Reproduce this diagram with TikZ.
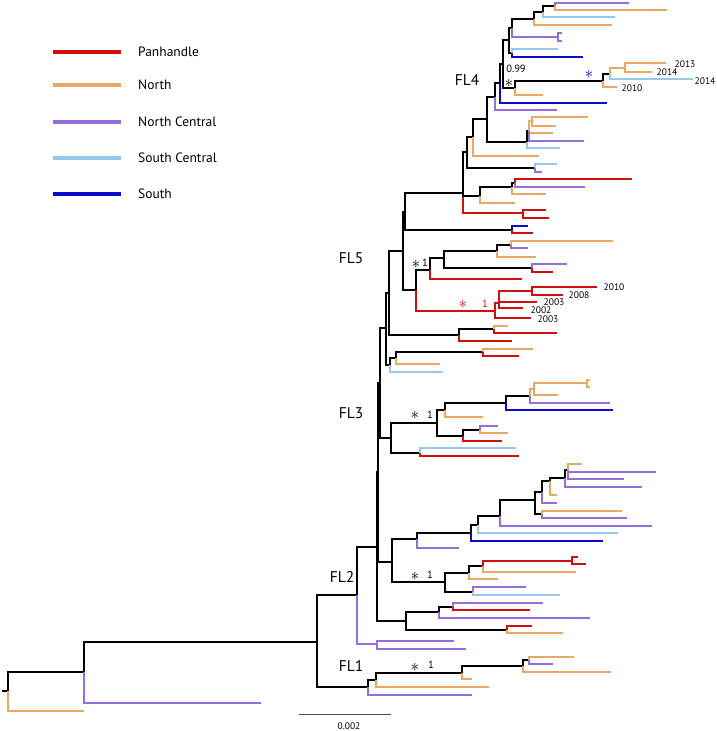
\documentclass[tikz,border=0pt]{standalone}
\usepackage{fontspec}
\setmainfont{PT Sans}
\definecolor{cPan}{RGB}{208,16,16}
\definecolor{cNor}{RGB}{233,168,102}
\definecolor{cNCe}{RGB}{150,110,215}
\definecolor{cSCe}{RGB}{150,200,235}
\definecolor{cSou}{RGB}{10,10,200}

\begin{document}
\begin{tikzpicture}[
    x=1pt, y=-1pt,
    branch/.style={line width=1.35pt},
    blk/.style={branch, draw=black},
    pan/.style={branch, draw=cPan},
    nor/.style={branch, draw=cNor},
    nce/.style={branch, draw=cNCe},
    sce/.style={branch, draw=cSCe},
    sou/.style={branch, draw=cSou},
    legline/.style={line width=3.3pt},
    legtext/.style={font=\fontsize{13.5}{16}\selectfont, inner sep=0pt},
    clade/.style={font=\fontsize{15.5}{18}\selectfont, inner sep=0pt},
    year/.style={font=\fontsize{9.5}{11}\selectfont, inner sep=0pt},
    supp/.style={font=\fontsize{10.5}{12}\selectfont, inner sep=0pt},
    star/.style={font=\fontsize{18}{19}\selectfont, inner sep=0pt}
]
\useasboundingbox (0,0) rectangle (717,731);

\foreach \st/\yy/\lab in {pan/52/Panhandle, nor/85/North, nce/122/North Central,
    sce/158/South Central, sou/194/South} {
  \draw[\st, legline] (53,\yy) -- (121,\yy);
  \node[legtext, anchor=base west] (key\yy) at (138,\yy+4.5) {\lab};
}

\coordinate (root) at (2,691);
\coordinate (r0) at (8,691);
\coordinate (r1) at (84,672);
\coordinate (r2) at (317,642);
\coordinate (fl1) at (368,687);
\coordinate (fl1b) at (376,680);
\coordinate (fl1c) at (462,673);
\coordinate (fl1d) at (523,666);
\coordinate (fl1e) at (529,660);
\coordinate (fl2) at (357,595);
\coordinate (fl2p) at (377,644);
\coordinate (a) at (377,547);
\coordinate (b) at (378,472);
\coordinate (c) at (406,621);
\coordinate (c1) at (439,612);
\coordinate (c2) at (453,607);
\coordinate (c3) at (507,630);
\coordinate (fl2s) at (392,562);
\coordinate (s1) at (417,539);
\coordinate (s2) at (471,533);
\coordinate (s3) at (478,525);
\coordinate (s4) at (500,516);
\coordinate (s5) at (535,500);
\coordinate (s6) at (542,492);
\coordinate (s7) at (550,481);
\coordinate (s8) at (565,478);
\coordinate (s9) at (568,470);
\coordinate (s10) at (542,514);
\coordinate (t1) at (445,582);
\coordinate (t2) at (469,573);
\coordinate (t3) at (483,566);
\coordinate (t4) at (572,561);
\coordinate (t5) at (473,592);
\coordinate (fl3) at (380,383);
\coordinate (fl3b) at (391,438);
\coordinate (u1) at (437,423);
\coordinate (u2) at (445,410);
\coordinate (u3) at (506,403);
\coordinate (u4) at (530,396);
\coordinate (u5) at (534,389);
\coordinate (u6) at (587,383);
\coordinate (u7) at (463,436);
\coordinate (u8) at (480,430);
\coordinate (u9) at (420,453);
\coordinate (v0) at (386,328);
\coordinate (v1) at (390,365);
\coordinate (v2) at (396,358);
\coordinate (v3) at (483,352);
\coordinate (fl5) at (389,293);
\coordinate (w1) at (459,335);
\coordinate (w2) at (494,329);
\coordinate (q) at (403,251);
\coordinate (q1) at (416,290);
\coordinate (q2) at (430,270);
\coordinate (q3) at (444,258);
\coordinate (q4) at (497,251);
\coordinate (q5) at (511,245);
\coordinate (q6) at (532,268);
\coordinate (rc) at (495,311);
\coordinate (rc1) at (499,303);
\coordinate (rc2) at (532,291);
\coordinate (p) at (405,212);
\coordinate (p1) at (512,230);
\coordinate (e) at (463,193);
\coordinate (e1) at (523,213);
\coordinate (m1) at (480,196);
\coordinate (m2) at (512,187);
\coordinate (m3) at (515,183);
\coordinate (h) at (467,152);
\coordinate (h1) at (535,168);
\coordinate (h2) at (473,137);
\coordinate (h3) at (487,119);
\coordinate (k) at (527,142);
\coordinate (k1) at (529,131);
\coordinate (k2) at (532,121);
\coordinate (h4) at (495,97);
\coordinate (fl4b) at (500,83);
\coordinate (fl4a) at (503,64);
\coordinate (g1) at (509,40);
\coordinate (g2) at (512,28);
\coordinate (g3) at (534,19);
\coordinate (g4) at (543,12);
\coordinate (g5) at (555,6);
\coordinate (g6) at (558,37);
\coordinate (g7) at (512,53);
\coordinate (j1) at (515,88);
\coordinate (j2) at (603,81);
\coordinate (j3) at (610,74);
\coordinate (j4) at (625,68);

\draw[blk] (root) -- (r0);
\foreach \pa/\ch/\st in {r0/r1/blk, r1/r2/blk, r2/fl2/blk, r2/fl1/blk,
    fl1/fl1b/blk, fl1b/fl1c/blk, fl1c/fl1d/blk, fl1d/fl1e/blk,
    fl2/a/blk, fl2/fl2p/nce, a/b/blk, a/c/blk, c/c1/blk, c1/c2/blk, c/c3/blk,
    b/fl3/blk, b/fl2s/blk,
    fl2s/s1/blk, s1/s2/blk, s2/s3/blk, s3/s4/blk, s4/s5/blk, s5/s6/blk,
    s6/s7/blk, s7/s8/blk, s8/s9/blk, s5/s10/blk,
    fl2s/t1/blk, t1/t2/blk, t2/t3/blk, t3/t4/pan, t1/t5/blk,
    fl3/v0/blk, fl3/fl3b/blk, fl3b/u1/blk, u1/u2/blk, u2/u3/blk, u3/u4/blk,
    u4/u5/nor, u5/u6/nor, u1/u7/blk, u7/u8/blk, fl3b/u9/blk,
    v0/fl5/blk, v0/v1/blk, v1/v2/blk, v2/v3/blk,
    fl5/q/blk, fl5/w1/blk, w1/w2/blk,
    q/p/blk, q/q1/blk, q1/q2/blk, q2/q3/blk, q3/q4/blk, q4/q5/blk, q3/q6/blk,
    q1/rc/pan, rc/rc1/pan, rc1/rc2/pan,
    p/e/blk, p/p1/blk, e/e1/pan, e/m1/blk, m1/m2/blk, m2/m3/blk,
    e/h/blk, h/h1/blk, h/h2/blk, h2/h3/blk, h3/k/blk, k/k1/blk, k1/k2/nor,
    h3/h4/blk, h4/fl4b/blk, fl4b/fl4a/blk, fl4a/g1/blk, g1/g2/blk, g2/g3/blk,
    g3/g4/blk, g4/g5/blk, g2/g6/nce, g1/g7/blk,
    fl4a/j1/blk, j1/j2/blk, j2/j3/blk, j3/j4/nor}
  \draw[\st] (\pa) |- (\ch);

\foreach \pa/\yy/\xx/\st [count=\i] in {r0/711/84/nor, r1/703/261/nce,
    fl1/695/472/nce, fl1b/687/489/nor, fl1c/679/472/nor, fl1d/672/611/nor,
    fl1e/657/574/nor, fl1e/664/553/nce,
    fl2p/641/454/nce, fl2p/649/466/nce,
    c2/603/543/nce, c2/610/530/pan, c1/618/590/nce, c3/626/532/pan, c3/633/563/nor,
    s1/548/459/nce, s2/541/603/sou, s3/533/618/sce, s4/526/652/nce,
    s10/511/622/nor, s10/518/627/nce, s6/503/557/nce, s7/495/557/nor,
    s8/487/642/nce, s9/464/582/nor, s9/472/656/nce, s9/479/624/nce,
    t2/579/498/nor, t3/572/576/nor, t4/557/578/pan, t4/564/586/pan,
    t5/587/526/nce, t5/595/560/sce,
    u9/448/516/sce, u9/456/519/pan, u7/441/502/pan, u8/426/498/nce, u8/433/508/nor,
    u2/417/483/nor, u3/410/613/sou, u4/403/610/nce, u5/395/558/nor,
    u6/380/590/nor, u6/387/590/nor,
    v1/372/443/sce, v2/364/440/nor, v3/349/533/nor, v3/356/519/pan,
    w1/341/512/pan, w2/326/508/nor, w2/333/557/pan,
    rc/318/531/pan, rc1/302/537/pan, rc1/308/523/pan, rc2/287/597/pan, rc2/295/563/pan,
    q2/279/522/pan, q6/264/567/nce, q6/272/553/pan, q4/257/536/nor,
    q5/241/613/nor, q5/248/528/nce,
    p1/226/528/sou, p1/233/533/pan, e1/210/546/pan, e1/218/549/pan,
    m1/203/515/nor, m2/194/546/nor, m3/179/632/pan, m3/187/585/nce,
    h1/164/557/sce, h1/172/542/nce, h2/156/539/nor,
    k/148/560/sce, k1/133/553/nor, k1/141/584/nce, k2/117/588/nor, k2/126/556/nor,
    h4/110/557/nce, fl4b/103/607/sou, j1/95/543/nor, j2/87/617/nor,
    j3/79/693/sce, j4/63/666/nor, j4/72/652/nor,
    g7/49/558/sce, g7/57/583/sou, g6/33/562/nce, g6/41/562/nce,
    g3/25/612/nor, g4/17/615/sce, g5/3/629/nce, g5/10/667/nor} {
  \coordinate (tip\i) at (\xx,\yy);
  \draw[\st] (\pa) |- (tip\i);
}

\node[clade] (labFL4) at (467,80) {FL4};
\node[clade] (labFL5) at (351,258) {FL5};
\node[clade] (labFL3) at (351,413) {FL3};
\node[clade] (labFL2) at (342,577) {FL2};
\node[clade] (labFL1) at (351,666) {FL1};

\node[year] (y2013) at (685,64) {2013};
\node[year] (y2014a) at (667,72) {2014};
\node[year] (y2014b) at (705,81) {2014};
\node[year] (y2010a) at (632,88) {2010};
\node[year] (y2010b) at (614,287) {2010};
\node[year] (y2008) at (579,295) {2008};
\node[year] (y2003a) at (554,302) {2003};
\node[year] (y2002) at (541,310) {2002};
\node[year] (y2003b) at (548,319) {2003};

\node[supp] (pp4) at (516,69) {0.99};
\node[star] (st4) at (509,87) {\smash{$\ast$}};
\node[star, text=cSou] (stB) at (589,78) {\smash{$\ast$}};
\node[star, text=cPan] (stR) at (463,308) {\smash{$\ast$}};
\node[supp, text=cPan] (ppR) at (485,304) {1};
\node[star] (st5) at (416,268) {\smash{$\ast$}};
\node[supp] (pp5) at (425,263) {1};
\node[star] (st3) at (415,419) {\smash{$\ast$}};
\node[supp] (pp3) at (430,415) {1};
\node[star] (st2) at (415,580) {\smash{$\ast$}};
\node[supp] (pp2) at (430,575) {1};
\node[star] (st1) at (415,671) {\smash{$\ast$}};
\node[supp] (pp1) at (431,665) {1};

\coordinate (sb1) at (299,714);
\coordinate (sb2) at (391,714);
\draw[line width=0.7pt, black!70] (sb1) -- (sb2);
\node[year] (sbtext) at (349,726) {0.002};
\end{tikzpicture}
\end{document}
